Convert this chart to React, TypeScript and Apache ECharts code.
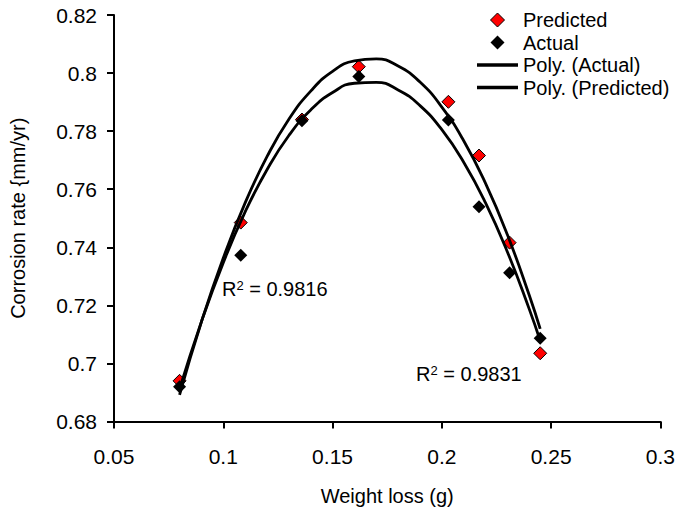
import React, { useEffect, useRef } from "react";
import * as echarts from "echarts";

const weightLoss = [0.08, 0.108, 0.136, 0.162, 0.203, 0.217, 0.231, 0.245];
const predicted = [0.694, 0.7485, 0.784, 0.8022, 0.7901, 0.7716, 0.7416, 0.7035];
const actual = [0.692, 0.7373, 0.7836, 0.7988, 0.7838, 0.754, 0.7312, 0.7087];

const curveX = [0.08, 0.09, 0.1, 0.11, 0.12, 0.13, 0.14, 0.15, 0.16, 0.17, 0.18, 0.19, 0.2, 0.21, 0.22, 0.23, 0.24, 0.245];
const polyPredictedY = [0.6892, 0.7143, 0.7363, 0.7553, 0.7712, 0.7841, 0.7938, 0.8006, 0.8042, 0.8049, 0.8024, 0.7969, 0.7883, 0.7767, 0.762, 0.7443, 0.7235, 0.7119];
const polyActualY = [0.6912, 0.7144, 0.7347, 0.7522, 0.7667, 0.7785, 0.7873, 0.7933, 0.7965, 0.7968, 0.7942, 0.7888, 0.7805, 0.7693, 0.7553, 0.7384, 0.7187, 0.7078];

const legendNames = ["Predicted", "Actual", "Poly. (Actual)", "Poly. (Predicted)"];
const r2Labels = [
  { x: 0.0994, y: 0.7256, value: "0.9816" },
  { x: 0.1882, y: 0.6965, value: "0.9831" },
];

const FONT = "'Liberation Sans', Arial, sans-serif";
const DIAMOND_ICON = "path://M7 0L14 7L7 14L0 7Z";
const LINE_ICON = "path://M0 0H41V3.4H0Z";

const pairs = (xs: number[], ys: number[]) => xs.map((x, i) => [x, ys[i]]);
const fmt = (v: number) => String(+v.toFixed(2));

export default function App() {
  const ref = useRef<HTMLDivElement>(null);
  useEffect(() => {
    if (!ref.current) return;
    const chart = echarts.init(ref.current, undefined, { renderer: "svg" });
    const option: any = {
      animation: false,
      backgroundColor: "#fff",
      textStyle: { fontFamily: FONT, color: "#000" },
      grid: { left: 114, right: 17, top: 15, bottom: 90.5 },
      legend: {
        orient: "vertical",
        left: 472,
        top: 5,
        itemWidth: 41,
        itemHeight: 14,
        itemGap: 2.5,
        symbolKeepAspect: true,
        data: [
          { name: legendNames[0], icon: DIAMOND_ICON, itemStyle: { color: "#ff0000", borderColor: "#000", borderWidth: 1, opacity: 1 } },
          { name: legendNames[1], icon: DIAMOND_ICON, itemStyle: { color: "#000", opacity: 1 } },
          { name: legendNames[2], icon: LINE_ICON, itemStyle: { color: "#000", borderWidth: 0 } },
          { name: legendNames[3], icon: LINE_ICON, itemStyle: { color: "#000", borderWidth: 0 } },
        ],
        textStyle: { fontFamily: FONT, fontSize: 20, color: "#000" },
      },
      xAxis: {
        type: "value",
        min: 0.05,
        max: 0.3,
        interval: 0.05,
        name: "Weight loss (g)",
        nameLocation: "middle",
        nameGap: 64,
        nameTextStyle: { fontFamily: FONT, fontSize: 20, color: "#000" },
        splitLine: { show: false },
        axisLine: { lineStyle: { color: "#000", width: 2 } },
        axisTick: { length: 7, lineStyle: { color: "#000", width: 2 } },
        axisLabel: { formatter: fmt, fontFamily: FONT, fontSize: 21, color: "#000", margin: 24 },
      },
      yAxis: {
        type: "value",
        min: 0.68,
        max: 0.82,
        interval: 0.02,
        name: "Corrosion rate {mm/yr)",
        nameLocation: "middle",
        nameGap: 86,
        nameRotate: 90,
        nameTextStyle: { fontFamily: FONT, fontSize: 20, color: "#000" },
        splitLine: { show: false },
        axisLine: { lineStyle: { color: "#000", width: 2 } },
        axisTick: { length: 7, lineStyle: { color: "#000", width: 2 } },
        axisLabel: { formatter: fmt, fontFamily: FONT, fontSize: 21, color: "#000", margin: 17 },
      },
      series: [
        {
          name: "Predicted",
          type: "scatter",
          symbol: "diamond",
          symbolSize: 13,
          z: 2,
          itemStyle: { color: "#ff0000", borderColor: "#000", borderWidth: 1, opacity: 1 },
          data: pairs(weightLoss, predicted),
        },
        {
          name: "Actual",
          type: "scatter",
          symbol: "diamond",
          symbolSize: 13,
          z: 3,
          itemStyle: { color: "#000", opacity: 1 },
          data: pairs(weightLoss, actual),
        },
        {
          name: "Poly. (Actual)",
          type: "line",
          smooth: true,
          showSymbol: false,
          symbol: "none",
          z: 4,
          itemStyle: { color: "#000" },
          lineStyle: { color: "#000", width: 2.8 },
          data: pairs(curveX, polyActualY),
        },
        {
          name: "Poly. (Predicted)",
          type: "line",
          smooth: true,
          showSymbol: false,
          symbol: "none",
          z: 4,
          itemStyle: { color: "#000" },
          lineStyle: { color: "#000", width: 2.8 },
          data: pairs(curveX, polyPredictedY),
        },
      ],
    };
    chart.setOption(option);
    const graphics = r2Labels.map((l) => {
      const [px, py] = chart.convertToPixel({ gridIndex: 0 }, [l.x, l.y]) as number[];
      return {
        type: "text",
        x: px,
        y: py,
        z: 10,
        style: {
          text: "R{s|2} = " + l.value,
          fontFamily: FONT,
          fontSize: 20,
          fill: "#000",
          verticalAlign: "middle",
          align: "left",
          rich: {
            s: { fontSize: 13, fontFamily: FONT, verticalAlign: "top", lineHeight: 20 },
          },
        },
      };
    });
    chart.setOption({ graphic: graphics });
    return () => chart.dispose();
  }, []);
  return (
    <div
      ref={ref}
      style={{ position: "fixed", left: 0, top: 0, width: 678, height: 512 }}
    />
  );
}
